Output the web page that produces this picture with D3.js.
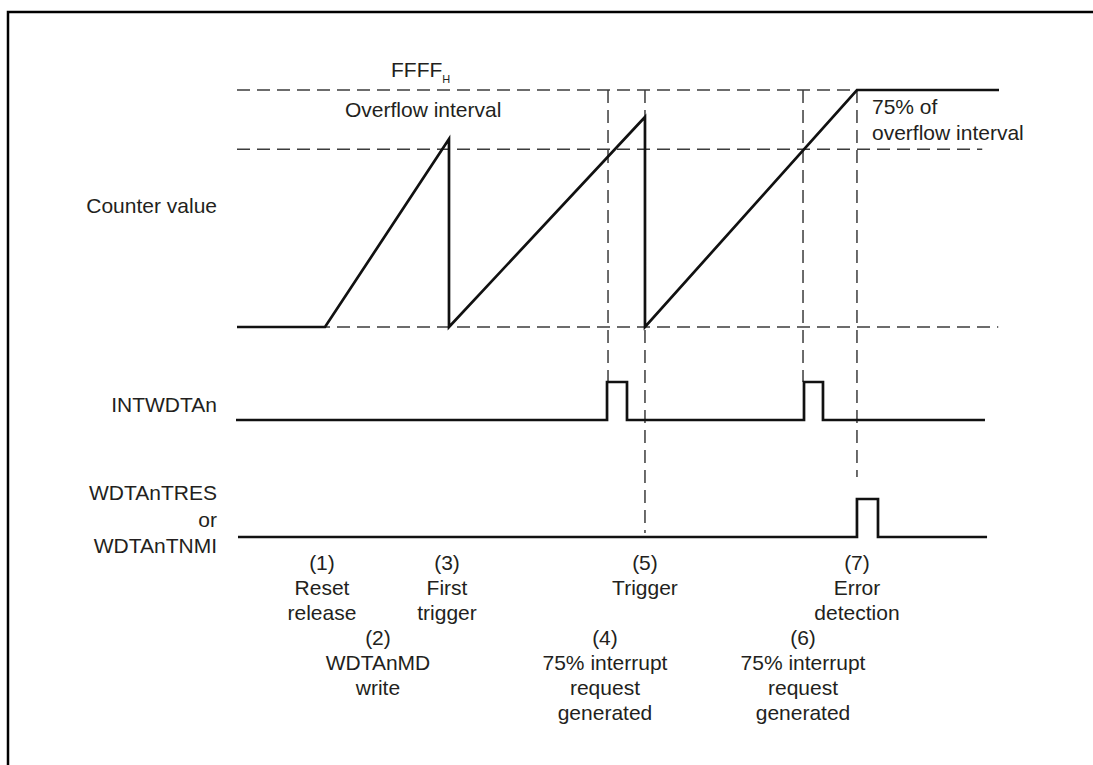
<!DOCTYPE html>
<html>
<head>
<meta charset="utf-8">
<script src="https://cdn.jsdelivr.net/npm/d3@7"></script>
<style>
  html, body { margin: 0; padding: 0; background: #fff; }
  svg { display: block; }
  text { font-family: "Liberation Sans", Arial, Helvetica, sans-serif; fill: #231f20; }
</style>
</head>
<body>
<svg id="chart" width="1093" height="765"></svg>
<script>
// ---------- DATA (time in arbitrary units 0..100, counter value as fraction of FFFFH) ----------
const counterTimes  = [0, 11.55, 27.82, 27.82, 53.54, 53.54, 81.36, 100];
const counterValues = [0, 0,     0.793, 0,     0.886, 0,     1,     1];

const levelFFFF = 1;        // FFFF_H
const level75   = 0.75;     // 75% of overflow interval
const levelZero = 0;

// INTWDTAn pulses (start, end) and line extent
const intStart = -0.13, intEnd = 98.16;
const intPulses = [[48.56, 51.18], [74.41, 76.90]];
// WDTAnTRES / WDTAnTNMI pulses
const resStart = 0.13, resEnd = 98.43;
const resPulses = [[81.36, 84.12]];

// vertical guide lines: time, and where they end
const guideTimes = [48.69, 53.54, 74.28, 81.36];
const guideEnds  = ["intHigh", "resLow", "intHigh", "resHighGap"];

// event annotations
const eventsTop = [
  { t: 11.15, lines: ["(1)", "Reset", "release"] },
  { t: 27.56, lines: ["(3)", "First", "trigger"] },
  { t: 53.54, lines: ["(5)", "Trigger"] },
  { t: 81.36, lines: ["(7)", "Error", "detection"] }
];
const eventsBottom = [
  { t: 18.5,  lines: ["(2)", "WDTAnMD", "write"] },
  { t: 48.29, lines: ["(4)", "75% interrupt", "request", "generated"] },
  { t: 74.28, lines: ["(6)", "75% interrupt", "request", "generated"] }
];

const rowLabels = ["Counter value", "INTWDTAn"];
const resLabelLines = ["WDTAnTRES", "or", "WDTAnTNMI"];

// ---------- SCALES ----------
const svg = d3.select("#chart");
const x = d3.scaleLinear().domain([0, 100]).range([237, 999]);
const y = d3.scaleLinear().domain([0, 1]).range([327, 90]);
const sig = d3.scaleOrdinal().domain(["intLow", "intHigh", "resLow", "resHigh"]).range([420, 382, 537, 499]);

const SOLID = "#111";
const DASH = "#3c3c3c";
const FS = 21;

// frame
svg.append("path").attr("d", "M8,765V12H1093")
  .attr("fill", "none").attr("stroke", "#000").attr("stroke-width", 2.5);

// ---------- DASHED REFERENCE LINES ----------
const dashed = svg.append("g").attr("fill", "none").attr("stroke", DASH)
  .attr("stroke-width", 1.5).attr("stroke-dasharray", "13,7");

dashed.append("line").attr("x1", x(0)).attr("x2", x(81.36)).attr("y1", y(levelFFFF)).attr("y2", y(levelFFFF));
dashed.append("line").attr("x1", x(0)).attr("x2", x(97.8)).attr("y1", y(level75)).attr("y2", y(level75));
dashed.append("line").attr("x1", x(0)).attr("x2", x(99.9)).attr("y1", y(levelZero)).attr("y2", y(levelZero));

const endY = { intHigh: sig("intHigh"), resLow: sig("resLow") - 4, resHighGap: sig("resHigh") - 22 };
guideTimes.forEach((t, i) => {
  dashed.append("line").attr("x1", x(t)).attr("x2", x(t))
    .attr("y1", y(levelFFFF)).attr("y2", endY[guideEnds[i]]);
});

// ---------- COUNTER WAVEFORM ----------
const line = d3.line().x(d => x(d[0])).y(d => y(d[1]));
svg.append("path")
  .datum(counterTimes.map((t, i) => [t, counterValues[i]]))
  .attr("d", line)
  .attr("fill", "none").attr("stroke", SOLID).attr("stroke-width", 2.7)
  .attr("stroke-linejoin", "miter");

// ---------- DIGITAL SIGNALS ----------
function pulseTrain(start, end, pulses, low, high) {
  const pts = [[start, low]];
  pulses.forEach(([a, b]) => { pts.push([a, low], [a, high], [b, high], [b, low]); });
  pts.push([end, low]);
  return pts;
}
const sigLine = d3.line().x(d => x(d[0])).y(d => sig(d[1]));
svg.append("path").datum(pulseTrain(intStart, intEnd, intPulses, "intLow", "intHigh"))
  .attr("d", sigLine).attr("fill", "none").attr("stroke", SOLID).attr("stroke-width", 2.7);
svg.append("path").datum(pulseTrain(resStart, resEnd, resPulses, "resLow", "resHigh"))
  .attr("d", sigLine).attr("fill", "none").attr("stroke", SOLID).attr("stroke-width", 2.7);

// ---------- TEXT ----------
const txt = svg.append("g").attr("font-size", FS);

// left row labels (right aligned)
txt.append("text").attr("x", 217).attr("y", 213).attr("text-anchor", "end").text(rowLabels[0]);
txt.append("text").attr("x", 217).attr("y", 412).attr("text-anchor", "end").text(rowLabels[1]);
resLabelLines.forEach((s, i) => {
  txt.append("text").attr("x", 217).attr("y", 500 + i * 26.5).attr("text-anchor", "end").text(s);
});

// top labels
const ff = txt.append("text").attr("x", 391).attr("y", 77);
ff.append("tspan").text("FFFF");
ff.append("tspan").attr("font-size", 11).attr("dy", 6).text("H");
txt.append("text").attr("x", 345).attr("y", 117).text("Overflow interval");
txt.append("text").attr("x", 872).attr("y", 114).text("75% of");
txt.append("text").attr("x", 872).attr("y", 140).text("overflow interval");

// event annotations
function drawEvents(list, baseY) {
  list.forEach(ev => {
    ev.lines.forEach((s, i) => {
      txt.append("text").attr("x", x(ev.t)).attr("y", baseY + i * 25)
        .attr("text-anchor", "middle").text(s);
    });
  });
}
drawEvents(eventsTop, 570);
drawEvents(eventsBottom, 645);
</script>
</body>
</html>
